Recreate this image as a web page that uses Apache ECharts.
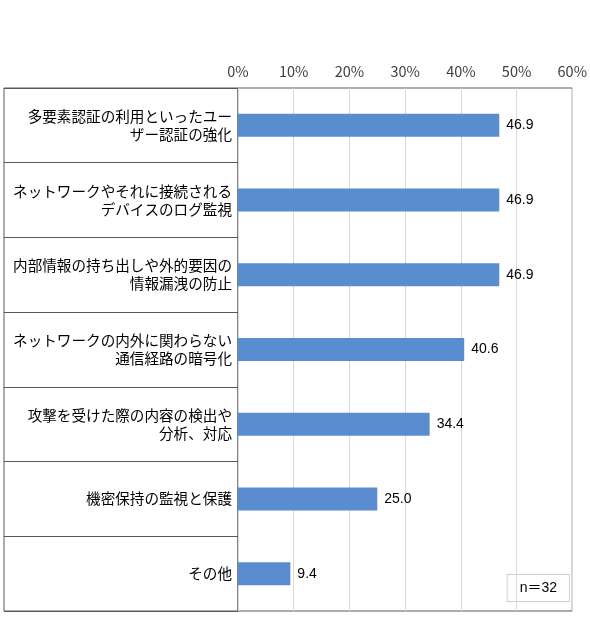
<!DOCTYPE html>
<html lang="ja">
<head>
  <meta charset="UTF-8">
  <title>chart</title>
  <style>
    * { margin: 0; padding: 0; }
    body { width: 590px; height: 629px; background: #fff; }
    #main { width: 590px; height: 629px; }
  </style>
</head>
<body>
  <div id="main"></div>
  <script src="https://cdn.jsdelivr.net/npm/echarts@6/dist/echarts.min.js"></script>
  <script>
    // 項目名（改行位置は元の図に合わせる）
    var categories = [
      '多要素認証の利用といったユー\nザー認証の強化',
      'ネットワークやそれに接続される\nデバイスのログ監視',
      '内部情報の持ち出しや外的要因の\n情報漏洩の防止',
      'ネットワークの内外に関わらない\n通信経路の暗号化',
      '攻撃を受けた際の内容の検出や\n分析、対応',
      '機密保持の監視と保護',
      'その他'
    ];
    var values = [46.9, 46.9, 46.9, 40.6, 34.4, 25.0, 9.4];
    var xTicks = [0, 10, 20, 30, 40, 50, 60];
    var sampleNote = 'n＝32';

    var font = '"Noto Sans CJK JP", "Noto Sans", sans-serif';
    var chart = echarts.init(document.getElementById('main'));

    var option = {
      animation: false,
      grid: [
        // グラフ部分
        { left: 238, right: 15, top: 88, bottom: 18, show: true, borderColor: '#595959', borderWidth: 1 },
        // 項目名の枠
        { left: 4, width: 234, top: 88, bottom: 18, show: true, borderColor: '#595959', borderWidth: 1 }
      ],
      xAxis: [
        {
          gridIndex: 0, type: 'value', position: 'top',
          min: xTicks[0], max: xTicks[xTicks.length - 1], interval: 10,
          axisLine: { show: false }, axisTick: { show: false },
          axisLabel: { formatter: '{value}%', color: '#404040', fontSize: 14.5, fontFamily: font, margin: 9 },
          splitLine: { lineStyle: { color: '#d9d9d9' } }
        },
        { gridIndex: 1, type: 'value', show: false }
      ],
      yAxis: [
        {
          gridIndex: 0, type: 'category', inverse: true, data: categories,
          axisLine: { show: false }, axisTick: { show: false },
          axisLabel: { color: '#000', fontSize: 14.6, lineHeight: 18, fontFamily: font, margin: 6, align: 'right' },
          splitLine: { show: false }
        },
        {
          gridIndex: 1, type: 'category', inverse: true, data: categories,
          axisLine: { show: false }, axisTick: { show: false }, axisLabel: { show: false },
          splitLine: { show: true, lineStyle: { color: '#595959' } }
        }
      ],
      series: [{
        type: 'bar', xAxisIndex: 0, yAxisIndex: 0,
        data: values, barWidth: 23,
        itemStyle: { color: '#5a8dcf' },
        label: {
          show: true, position: 'right', distance: 7,
          color: '#000', fontSize: 14, fontFamily: '"Liberation Sans", Arial, sans-serif',
          formatter: function (p) { return p.value.toFixed(1); }
        }
      }],
      graphic: [{
        type: 'text', right: 20, bottom: 27,
        style: {
          text: sampleNote, fill: '#000', font: '14px "Liberation Sans", ' + font,
          backgroundColor: '#fff', borderColor: '#d0d0d0', borderWidth: 1,
          padding: [6, 12]
        }
      }]
    };

    chart.setOption(option);
  </script>
</body>
</html>
